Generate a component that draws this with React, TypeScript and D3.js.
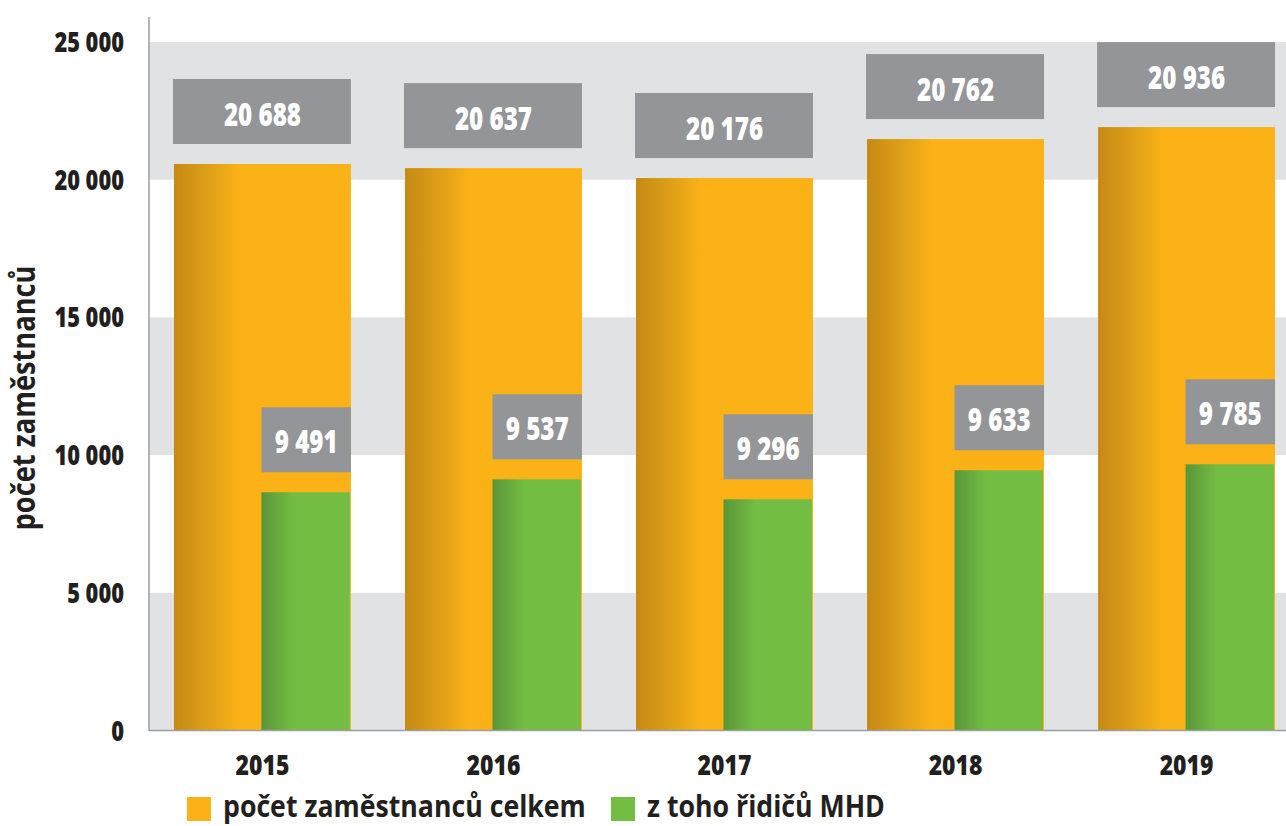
import React from "react";
import * as d3 from "d3";

const years = ["2015", "2016", "2017", "2018", "2019"];
// values printed in the grey label boxes
const totalLabels = [20688, 20637, 20176, 20762, 20936];
const driverLabels = [9491, 9537, 9296, 9633, 9785];
// bar heights as drawn in the picture
const totalBars = [20570, 20420, 20060, 21475, 21910];
const driverBars = [8650, 9120, 8395, 9450, 9665];
const yTicks = [0, 5000, 10000, 15000, 20000, 25000];
const bandRanges = [[0, 5000], [10000, 15000], [20000, 25000]];
const legendItems = [
  { label: "počet zaměstnanců celkem", color: "#FBB216" },
  { label: "z toho řidičů MHD", color: "#74BD43" },
];

const W = 1286;
const H = 826;
const FONT = "'Open Sans', 'Noto Sans', sans-serif";

const fmt = (v: number) => d3.format(",")(v).replace(/,/g, " ");

function CText(props: {
  x: number;
  y: number;
  sx: number;
  size: number;
  weight?: number;
  anchor?: string;
  fill?: string;
  rotate?: number;
  children: React.ReactNode;
}) {
  const { x, y, sx, size, weight = 700, anchor = "middle", fill = "#231F20", rotate = 0, children } = props;
  return (
    <text
      transform={`translate(${x},${y}) rotate(${rotate}) scale(${sx},1)`}
      textAnchor={anchor}
      fontFamily={FONT}
      fontWeight={weight}
      fontSize={size}
      fill={fill}
    >
      {children}
    </text>
  );
}

export default function App() {
  const x = d3.scaleBand<string>().domain(years).range([149, 1300]).paddingInner(0.234).paddingOuter(0.108);
  const y = d3.scaleLinear().domain([0, 25000]).range([730.5, 42]);
  const bw = x.bandwidth();
  const boxH = 65;
  const gap = 20;

  return (
    <div style={{ position: "absolute", left: 0, top: 0 }}>
      <svg width={W} height={H} style={{ display: "block" }}>
        <defs>
          <linearGradient id="gOrange" x1="0" x2="1" y1="0" y2="0">
            <stop offset="0" stopColor="#C68A14" />
            <stop offset="0.18" stopColor="#DC9D18" />
            <stop offset="0.37" stopColor="#FBB216" />
            <stop offset="1" stopColor="#FBB216" />
          </linearGradient>
          <linearGradient id="gGreen" x1="0" x2="1" y1="0" y2="0">
            <stop offset="0" stopColor="#5A9639" />
            <stop offset="0.36" stopColor="#74BD43" />
            <stop offset="1" stopColor="#74BD43" />
          </linearGradient>
        </defs>
        <rect x={0} y={0} width={W} height={H} fill="#ffffff" />
        {bandRanges.map(([a, b], i) => (
          <rect key={i} x={149} y={y(b)} width={W - 149} height={y(a) - y(b)} fill="#E1E2E4" />
        ))}
        {yTicks.map((t) => (
          <CText key={t} x={124} y={y(t) + 10} sx={0.78} size={28} weight={800} anchor="end">
            {fmt(t)}
          </CText>
        ))}
        <CText x={35} y={398} sx={0.85} size={32} weight={700} rotate={-90}>
          počet zaměstnanců
        </CText>
        {years.map((yr, i) => {
          const x0 = x(yr)!;
          const tTop = y(totalBars[i]);
          const dTop = y(driverBars[i]);
          const gx = x0 + bw / 2 - 1;
          const gw = bw / 2;
          return (
            <g key={yr}>
              <rect x={x0} y={tTop} width={bw} height={y(0) - tTop} fill="url(#gOrange)" />
              <rect x={gx} y={dTop} width={gw} height={y(0) - dTop} fill="url(#gGreen)" />
              <rect x={x0 - 1} y={tTop - gap - boxH} width={bw + 1} height={boxH} fill="#939598" />
              <CText x={x0 + bw / 2} y={tTop - gap - boxH + 47} sx={0.78} size={31} weight={800} fill="#ffffff">
                {fmt(totalLabels[i])}
              </CText>
              <rect x={gx} y={dTop - gap - boxH} width={gw + 1} height={boxH} fill="#939598" />
              <CText x={gx + (gw + 1) / 2} y={dTop - gap - boxH + 46} sx={0.78} size={31} weight={800} fill="#ffffff">
                {fmt(driverLabels[i])}
              </CText>
              <CText x={x0 + bw / 2} y={775} sx={0.82} size={28} weight={800}>
                {yr}
              </CText>
            </g>
          );
        })}
        <line x1={149} x2={149} y1={17} y2={731} stroke="#9D9EA0" strokeWidth={1.5} />
        <line x1={149} x2={W} y1={730.5} y2={730.5} stroke="#9D9EA0" strokeWidth={1.5} />
        {legendItems.map((it, i) => {
          const lx = i === 0 ? 187 : 611;
          return (
            <g key={it.label}>
              <rect x={lx} y={797} width={24} height={24} fill={it.color} />
              <CText x={lx + 36} y={817} sx={0.89} size={30} weight={700} anchor="start">
                {it.label}
              </CText>
            </g>
          );
        })}
      </svg>
    </div>
  );
}
